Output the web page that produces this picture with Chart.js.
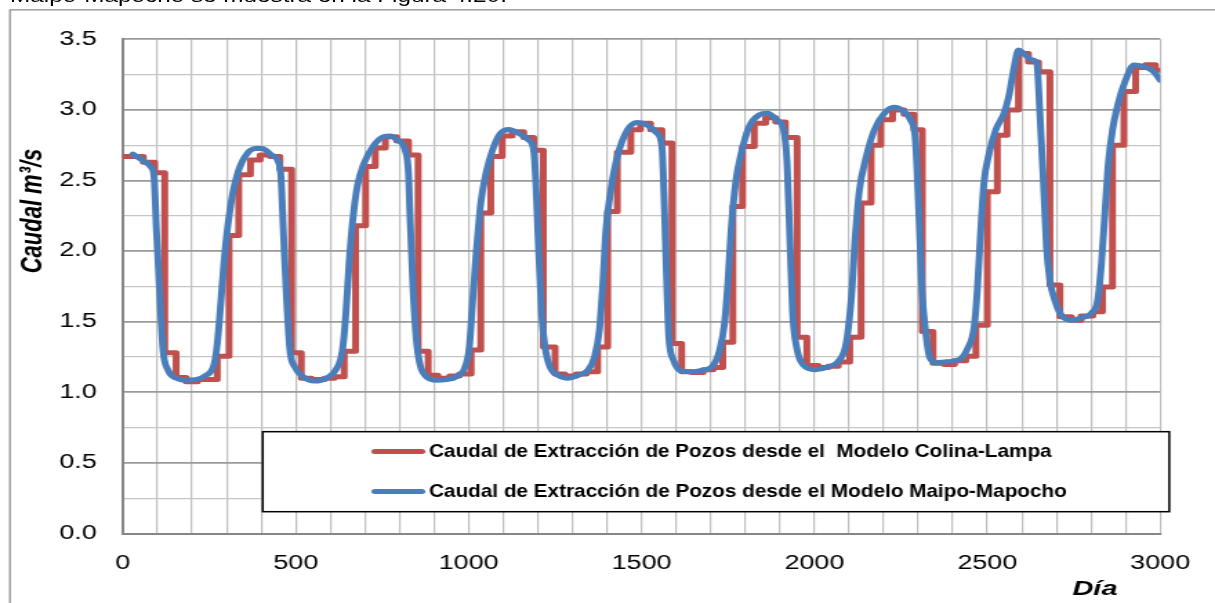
<!DOCTYPE html>
<html><head><meta charset="utf-8">
<script src="https://cdn.jsdelivr.net/npm/chart.js@4.4.0/dist/chart.umd.min.js"></script>
<style>
html,body{margin:0;padding:0;background:#fff;overflow:hidden;width:1215px;height:603px;}
#wrap{position:absolute;left:0;top:0;width:880px;height:603px;transform:scaleX(1.380682);transform-origin:0 0;}
#doc{position:absolute;left:10px;top:-12px;font-family:'Liberation Sans',Arial,sans-serif;font-size:17.6px;line-height:17.6px;white-space:nowrap;color:#000;z-index:2;display:inline-block;transform:scaleX(1.380682);transform-origin:0 0;}
canvas{position:absolute;left:0;top:0;}
</style></head><body>
<div id="wrap"><canvas id="c" width="880" height="603"></canvas></div>
<div id="doc">Maipo-Mapocho se muestra en la Figura 4.20.</div>
<script>
// ---- data ----
const seriesLabels = [
  "Caudal de Extracción de Pozos desde el  Modelo Colina-Lampa",
  "Caudal de Extracción de Pozos desde el Modelo Maipo-Mapocho"
];
const xTitle = "Día";
const yTitle = "Caudal m³/s";
const xTickLabels = [0, 500, 1000, 1500, 2000, 2500, 3000];
const yTickLabels = [0, 0.5, 1, 1.5, 2, 2.5, 3, 3.5];

const redDays = [0,59,92,121,154,183,216,273,307,335,369,397,426,454,488,516,545,583,611,640,673,702,730,759,792,826,854,883,911,945,973,1007,1035,1064,1097,1126,1159,1188,1216,1250,1278,1311,1340,1373,1402,1430,1469,1497,1526,1559,1588,1616,1645,1678,1707,1735,1764,1792,1826,1859,1888,1916,1950,1978,2011,2040,2069,2102,2135,2164,2192,2226,2259,2288,2312,2343,2376,2405,2438,2467,2500,2529,2557,2590,2619,2648,2681,2710,2743,2771,2805,2833,2862,2895,2929,2957,2986,3000];
const redValues = [2.67,2.63,2.555,1.28,1.105,1.075,1.09,1.255,2.11,2.54,2.645,2.68,2.67,2.58,1.28,1.10,1.09,1.10,1.11,1.29,2.18,2.60,2.73,2.81,2.78,2.68,1.29,1.12,1.10,1.115,1.13,1.30,2.27,2.67,2.815,2.845,2.805,2.715,1.32,1.13,1.115,1.13,1.145,1.32,2.28,2.70,2.86,2.905,2.86,2.765,1.345,1.145,1.14,1.16,1.175,1.355,2.315,2.74,2.905,2.945,2.915,2.805,1.39,1.19,1.175,1.185,1.215,1.39,2.34,2.75,2.93,3.00,2.97,2.86,1.43,1.205,1.197,1.223,1.255,1.475,2.42,2.82,3.00,3.40,3.34,3.27,1.76,1.535,1.51,1.54,1.57,1.745,2.75,3.13,3.30,3.32,3.28,3.28];

const blueDays = [29,59,83,90,97,107,116,130,154,183,211,240,264,273,283,292,302,316,335,359,383,402,430,450,457,464,473,483,497,521,554,588,616,635,645,654,664,678,697,726,754,773,792,816,826,830,838,848,859,878,907,935,964,988,1002,1011,1021,1035,1050,1069,1092,1116,1145,1173,1188,1194,1202,1211,1221,1235,1259,1288,1316,1345,1364,1378,1388,1397,1411,1430,1459,1488,1516,1545,1559,1565,1571,1579,1592,1616,1650,1678,1707,1726,1740,1750,1759,1773,1788,1811,1840,1864,1892,1911,1921,1928,1937,1950,1969,2002,2040,2073,2092,2107,2118,2130,2150,2173,2202,2230,2259,2278,2292,2302,2311,2321,2333,2352,2381,2419,2443,2462,2471,2481,2490,2505,2524,2548,2562,2576,2590,2605,2629,2643,2652,2662,2671,2681,2695,2714,2743,2776,2800,2819,2830,2840,2850,2862,2876,2900,2924,2952,2981,3000];
const blueValues = [2.687,2.64,2.59,2.53,2.15,1.68,1.30,1.16,1.10,1.086,1.09,1.12,1.20,1.345,1.63,1.91,2.15,2.385,2.575,2.69,2.727,2.727,2.68,2.63,2.53,2.15,1.68,1.30,1.18,1.11,1.08,1.10,1.16,1.30,1.56,1.91,2.20,2.46,2.62,2.75,2.81,2.815,2.79,2.716,2.55,2.27,1.79,1.39,1.20,1.11,1.086,1.09,1.11,1.17,1.32,1.63,1.96,2.34,2.55,2.716,2.834,2.862,2.834,2.787,2.716,2.50,2.03,1.56,1.32,1.18,1.12,1.10,1.12,1.157,1.25,1.44,1.77,2.15,2.43,2.67,2.857,2.91,2.893,2.834,2.739,2.39,1.91,1.39,1.23,1.15,1.145,1.157,1.19,1.30,1.49,1.79,2.15,2.50,2.69,2.88,2.964,2.976,2.928,2.857,2.62,2.15,1.56,1.30,1.19,1.16,1.18,1.23,1.35,1.68,2.10,2.43,2.67,2.857,2.976,3.018,2.987,2.928,2.787,2.27,1.72,1.44,1.25,1.21,1.216,1.232,1.31,1.464,1.724,2.15,2.48,2.69,2.857,2.976,3.094,3.283,3.424,3.40,3.354,3.33,2.976,2.503,2.031,1.794,1.653,1.546,1.511,1.53,1.558,1.653,1.912,2.267,2.621,2.857,3.023,3.212,3.318,3.306,3.271,3.21];

// ---- drawing ----
const FONT = "'Liberation Sans', Arial, sans-serif";
const isMajorY = v => Math.abs(v * 2 - Math.round(v * 2)) < 1e-6;

const decor = {
  id: 'decor',
  beforeDraw(chart) {
    const c = chart.ctx;
    c.save();
    c.fillStyle = '#fff';
    c.fillRect(0, 0, chart.width, chart.height);
    c.strokeStyle = '#8c8c8c';
    c.lineWidth = 1.2;
    c.beginPath();
    c.moveTo(7.2, chart.height + 2);
    c.lineTo(7.2, 9.8);
    c.lineTo(chart.width + 2, 9.8);
    c.stroke();
    c.restore();
  },
  afterDraw(chart) {
    const c = chart.ctx;
    c.save();
    const bx = 190.3, by = 431.7, bw = 846.9 - 190.3, bh = 80;
    c.fillStyle = '#fff';
    c.fillRect(bx, by, bw, bh);
    c.strokeStyle = '#000';
    c.lineWidth = 1.5;
    c.strokeRect(bx, by, bw, bh);
    const rows = [451.5, 491.5];
    const maxW = [451, 462];
    chart.data.datasets.forEach((ds, i) => {
      c.strokeStyle = ds.borderColor;
      c.lineWidth = 5;
      c.lineCap = 'round';
      c.beginPath();
      c.moveTo(271.5, rows[i]);
      c.lineTo(305.5, rows[i]);
      c.stroke();
      c.fillStyle = '#000';
      c.font = `bold 18.5px ${FONT}`;
      c.textBaseline = 'middle';
      c.textAlign = 'left';
      c.fillText(ds.label, 310.7, rows[i], maxW[i]);
    });
    c.fillStyle = '#000';
    c.textAlign = 'center';
    c.textBaseline = 'middle';
    c.save();
    c.font = `italic bold 22px ${FONT}`;
    c.translate(24, 211);
    c.rotate(-Math.PI / 2);
    c.fillText(yTitle, 0, 0);
    c.restore();
    c.font = `italic bold 21px ${FONT}`;
    c.fillText(xTitle, 793, 589);
    c.restore();
  }
};

new Chart(document.getElementById('c'), {
  type: 'line',
  data: {
    datasets: [
      {
        label: seriesLabels[0],
        data: redDays.map((d, i) => ({ x: d, y: redValues[i] })),
        borderColor: '#C0504D',
        borderWidth: 5,
        stepped: 'before',
        pointRadius: 0,
        fill: false,
        order: 1,
        borderJoinStyle: 'round',
        borderCapStyle: 'round'
      },
      {
        label: seriesLabels[1],
        data: blueDays.map((d, i) => ({ x: d, y: blueValues[i] })),
        borderColor: '#4A7EBB',
        borderWidth: 5,
        cubicInterpolationMode: 'monotone',
        pointRadius: 0,
        fill: false,
        order: 0,
        borderJoinStyle: 'round',
        borderCapStyle: 'round'
      }
    ]
  },
  options: {
    responsive: false,
    animation: false,
    devicePixelRatio: 1,
    layout: { padding: { left: 0, right: 27.7, top: 39.3, bottom: 19.5 } },
    plugins: { legend: { display: false }, tooltip: { enabled: false } },
    scales: {
      x: {
        type: 'linear',
        min: 0,
        max: 3000,
        afterFit: s => { s.height = 50; },
        ticks: {
          stepSize: 100,
          autoSkip: false,
          minRotation: 0,
          maxRotation: 0,
          padding: 18,
          color: '#000',
          font: { family: FONT, size: 19.5 },
          callback: v => xTickLabels.includes(v) ? String(v) : ''
        },
        grid: { color: '#bfbfbf', lineWidth: 1.2, drawTicks: false },
        border: { color: '#868686', width: 2 }
      },
      y: {
        min: 0,
        max: 3.5,
        afterFit: s => { s.width = 89; },
        ticks: {
          stepSize: 0.25,
          autoSkip: false,
          padding: 19,
          color: '#000',
          font: { family: FONT, size: 19.5 },
          callback: v => yTickLabels.some(t => Math.abs(t - v) < 1e-6) ? v.toFixed(1) : ''
        },
        grid: {
          drawTicks: false,
          color: ctx => (ctx.tick && isMajorY(ctx.tick.value)) ? '#9a9a9a' : '#c6c6c6',
          lineWidth: ctx => (ctx.tick && isMajorY(ctx.tick.value)) ? 1.8 : 1.3
        },
        border: { color: '#868686', width: 2 }
      }
    }
  },
  plugins: [decor]
});
</script>
</body></html>
